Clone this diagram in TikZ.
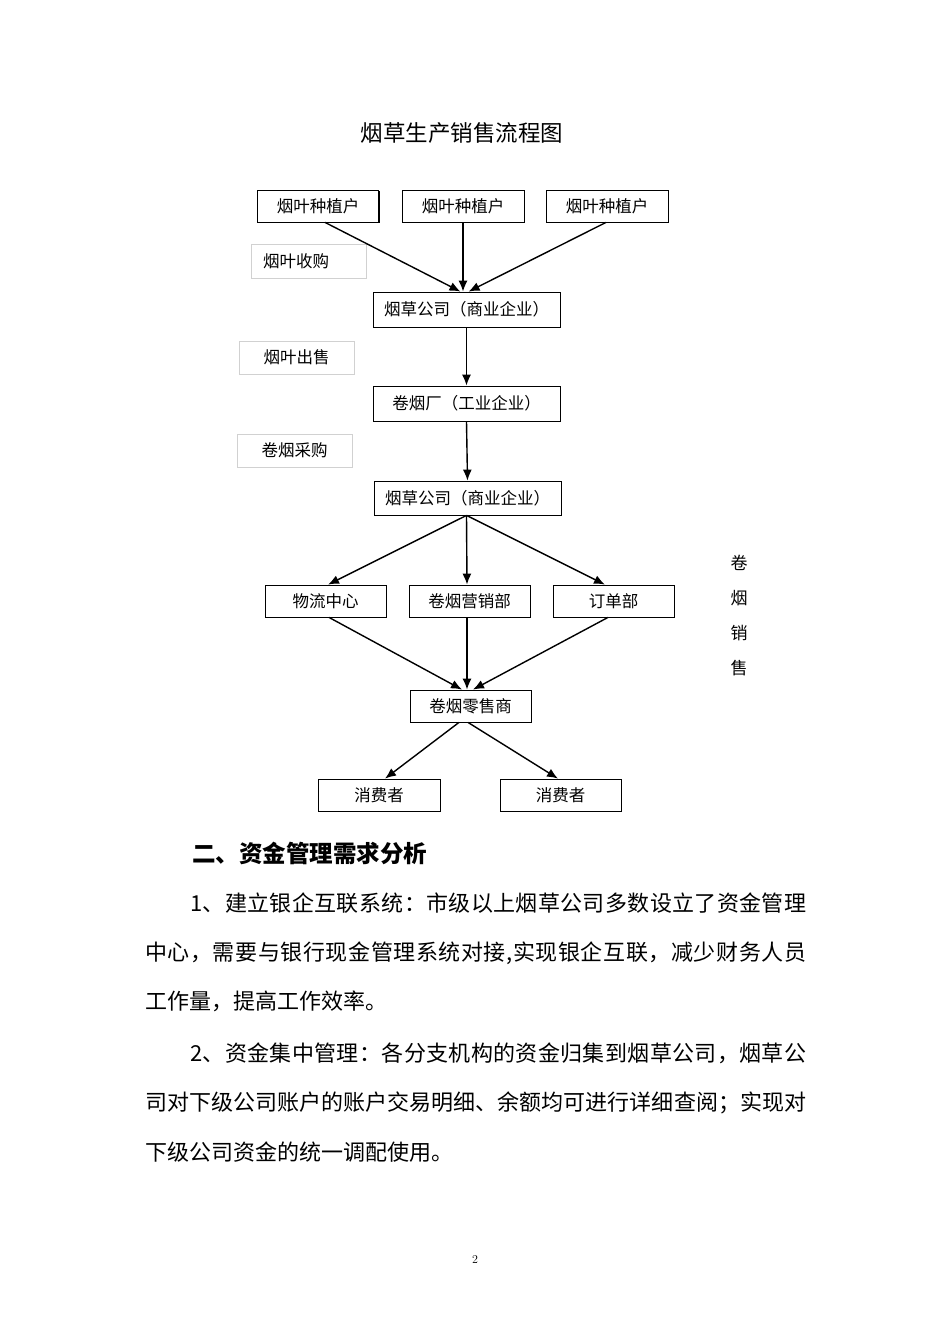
\documentclass[tikz,border=0pt]{standalone}
\usepackage{fontspec}
\newfontfamily\cjk{Noto Sans CJK SC}
\usetikzlibrary{arrows.meta,shadows}
\def\spreadnext#1{\ifx#1\relax\else#1\hfil\expandafter\spreadnext\fi}
\newcommand\spreadline[2]{\hbox to #1{\spreadnext#2\relax\unskip}}
\tikzset{
	box/.style={draw=black, fill=white, line width=0.8pt, minimum width=121pt, minimum height=32pt, inner sep=0pt, font=\cjk\fontsize{16.5}{18}\selectfont},
	boxsh/.style={box, drop shadow={shadow xshift=1.2pt, shadow yshift=-1.2pt, fill=black, opacity=1}},
	tag/.style={draw=black!18, line width=0.6pt, minimum width=115pt, minimum height=34pt, inner sep=0pt, font=\cjk\fontsize{16.5}{18}\selectfont},
	flow/.style={line width=1.4pt, -{Latex[length=11pt, width=9pt]}},
	body/.style={anchor=west, inner sep=0pt, font=\cjk\fontsize{22}{26}\selectfont}
}

\begin{document}
\begin{tikzpicture}[x=1pt, y=-1pt]
		%%%%% START %%%%%
		\useasboundingbox[fill=white] (0,0) rectangle (950,1344);
		
		\node[font=\cjk\fontsize{22.5}{26}\selectfont] (title) at (462,133) {烟草生产销售流程图};
		
		\node[boxsh] (growA) at (318,206) {烟叶种植户};
		\node[boxsh, minimum width=122pt] (growB) at (463,206) {烟叶种植户};
		\node[boxsh, minimum width=122pt] (growC) at (607,206) {烟叶种植户};
		
		\node[tag, text width=91pt, inner xsep=12pt, align=left] (buy) at (308.5,261.5) {烟叶收购};
		\node[boxsh, minimum width=187pt, minimum height=35pt] (comA) at (466.5,309.5) {烟草公司（商业企业）};
		\node[tag, minimum height=33pt] (sell) at (296.5,357.5) {烟叶出售};
		\node[boxsh, minimum width=187pt, minimum height=35pt] (mill) at (466.5,403.5) {卷烟厂（工业企业）};
		\node[tag, minimum height=33pt] (purch) at (294.5,450.5) {卷烟采购};
		\node[boxsh, minimum width=187pt, minimum height=34pt] (comB) at (467.5,498) {烟草公司（商业企业）};
		
		\node[boxsh] (logi) at (325.5,601) {物流中心};
		\node[boxsh] (mkt) at (469.5,601) {卷烟营销部};
		\node[boxsh] (order) at (613.5,601) {订单部};
		\node[box] (retail) at (470.5,706) {卷烟零售商};
		\node[box, minimum width=122pt] (userA) at (379,795) {消费者};
		\node[boxsh] (userB) at (560.5,795) {消费者};
		
		\node[font=\cjk\fontsize{17}{35}\selectfont, align=center] (side) at (739,615.5) {卷\\烟\\销\\售};
		
		% arrows
		\draw[flow] ([xshift=7]growA.south) -- ([xshift=-6]comA.north);
		\draw[flow] (growB.south) -- ([xshift=-3.5]comA.north);
		\draw[flow] ([xshift=-1]growC.south) -- ([xshift=2]comA.north);
		\draw[flow] (comA.south) -- (mill.north);
		\draw[flow] (mill.south) -- (comB.north);
		\draw[flow] ([xshift=-1]comB.south) -- ([xshift=2.5]logi.north);
		\draw[flow] ([xshift=-1]comB.south) -- ([xshift=-2.5]mkt.north);
		\draw[flow] ([xshift=-1]comB.south) -- ([xshift=-8.5]order.north);
		\draw[flow] ([xshift=3.5]logi.south) -- ([xshift=-8.5]retail.north);
		\draw[flow] ([xshift=-2.5]mkt.south) -- ([xshift=-3.5]retail.north);
		\draw[flow] ([xshift=-5.5]order.south) -- ([xshift=2.5]retail.north);
		\draw[flow] ([xshift=-11.5]retail.south) -- ([xshift=6]userA.north);
		\draw[flow] ([xshift=-2.5]retail.south) -- ([xshift=-2.5]userB.north);
		
		% text below
		\node[body, font=\cjk\bfseries\fontsize{23.5}{26}\selectfont] (head) at (192,853) {二、资金管理需求分析};
		\node[body] (parA1) at (190,903) {\spreadline{616pt}{1、建立银企互联系统：市级以上烟草公司多数设立了资金管理}};
		\node[body] (parA2) at (145,953) {\spreadline{661pt}{中心，需要与银行现金管理系统对接,实现银企互联，减少财务人员}};
		\node[body] (parA3) at (145,1001) {工作量，提高工作效率。};
		\node[body] (parB1) at (190,1053) {\spreadline{616pt}{2、资金集中管理：各分支机构的资金归集到烟草公司，烟草公}};
		\node[body] (parB2) at (145,1103) {\spreadline{661pt}{司对下级公司账户的账户交易明细、余额均可进行详细查阅；实现对}};
		\node[body] (parB3) at (145,1152) {下级公司资金的统一调配使用。};
		
		\node[font=\fontsize{12}{14}\selectfont] (pgno) at (475,1259) {2};
		%%%%% END %%%%%
	\end{tikzpicture}
\end{document}
